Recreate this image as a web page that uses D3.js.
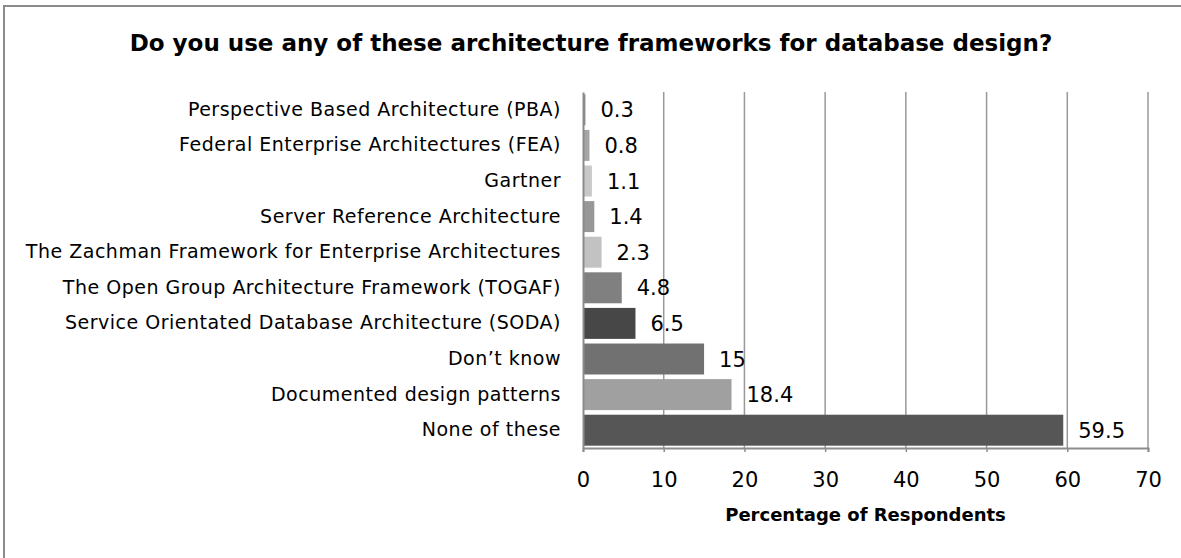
<!DOCTYPE html>
<html>
<head>
<meta charset="utf-8">
<script src="https://cdn.jsdelivr.net/npm/d3@7"></script>
<style>
html,body{margin:0;padding:0;background:#fff;}
svg{display:block;}
text{font-family:"DejaVu Sans",sans-serif;fill:#000;}
</style>
</head>
<body>
<svg id="chart" width="1181" height="558"></svg>
<script>
const categories = [
  "Perspective Based Architecture (PBA)",
  "Federal Enterprise Architectures (FEA)",
  "Gartner",
  "Server Reference Architecture",
  "The Zachman Framework for Enterprise Architectures",
  "The Open Group Architecture Framework (TOGAF)",
  "Service Orientated Database Architecture (SODA)",
  "Don\u2019t know",
  "Documented design patterns",
  "None of these"
];
const values = [0.3, 0.8, 1.1, 1.4, 2.3, 4.8, 6.5, 15, 18.4, 59.5];
const barColors = ["#8a8a8a","#a5a5a5","#c8c8c8","#979797","#c2c2c2","#808080","#474747","#717171","#a0a0a0","#565656"];
const xTicks = [0, 10, 20, 30, 40, 50, 60, 70];
const titleText = "Do you use any of these architecture frameworks for database design?";
const xTitle = "Percentage of Respondents";

const svg = d3.select("#chart");
const plotLeft = 583, plotRight = 1148, plotTop = 92, plotBottom = 448;

// outer frame
svg.append("rect").attr("x", 4).attr("y", 6).attr("width", 1200).attr("height", 600)
  .attr("fill", "none").attr("stroke", "#8c8c8c").attr("stroke-width", 2);

const x = d3.scaleLinear().domain([0, 70]).range([plotLeft, plotRight]);
const y = d3.scaleBand().domain(categories).range([plotTop, plotBottom]).paddingInner(0.13).paddingOuter(0.065);

// gridlines
svg.append("g").selectAll("line").data(xTicks.slice(1)).join("line")
  .attr("x1", d => x(d)).attr("x2", d => x(d))
  .attr("y1", plotTop).attr("y2", plotBottom)
  .attr("stroke", "#999").attr("stroke-width", 1.5);

// bars
svg.append("g").selectAll("rect").data(values).join("rect")
  .attr("x", x(0))
  .attr("y", (d, i) => y(categories[i]))
  .attr("width", d => x(d) - x(0))
  .attr("height", y.bandwidth())
  .attr("fill", (d, i) => barColors[i]);

// value labels
svg.append("g").selectAll("text").data(values).join("text")
  .attr("x", d => x(d) + 15)
  .attr("y", (d, i) => y(categories[i]) + y.bandwidth() / 2)
  .attr("dy", "0.36em")
  .attr("font-size", 21)
  .text(d => d);

// x axis
const xAxis = d3.axisBottom(x).tickValues(xTicks).tickSize(4).tickPadding(20).tickFormat(d3.format("d"));
const gx = svg.append("g").attr("transform", `translate(0,${plotBottom})`).call(xAxis);
gx.select(".domain").attr("stroke", "#8c8c8c").attr("stroke-width", 2);
gx.selectAll(".tick line").attr("stroke", "#8c8c8c").attr("stroke-width", 1.5);
gx.selectAll(".tick text").attr("font-size", 21).attr("font-family", "DejaVu Sans").attr("fill", "#000");

// y axis
const yAxis = d3.axisLeft(y).tickSize(0).tickPadding(22);
const gy = svg.append("g").attr("transform", `translate(${plotLeft},0)`).call(yAxis);
gy.select(".domain").attr("stroke", "#8c8c8c").attr("stroke-width", 2);
gy.selectAll(".tick text").attr("font-size", 19).attr("letter-spacing", 0.5)
  .attr("font-family", "DejaVu Sans").attr("fill", "#000");

// title
svg.append("text").attr("x", 591).attr("y", 51).attr("text-anchor", "middle")
  .attr("font-size", 23).attr("font-weight", "bold").text(titleText);

// x title
svg.append("text").attr("x", (plotLeft + plotRight) / 2).attr("y", 521).attr("text-anchor", "middle")
  .attr("font-size", 18).attr("font-weight", "bold").text(xTitle);
</script>
</body>
</html>
